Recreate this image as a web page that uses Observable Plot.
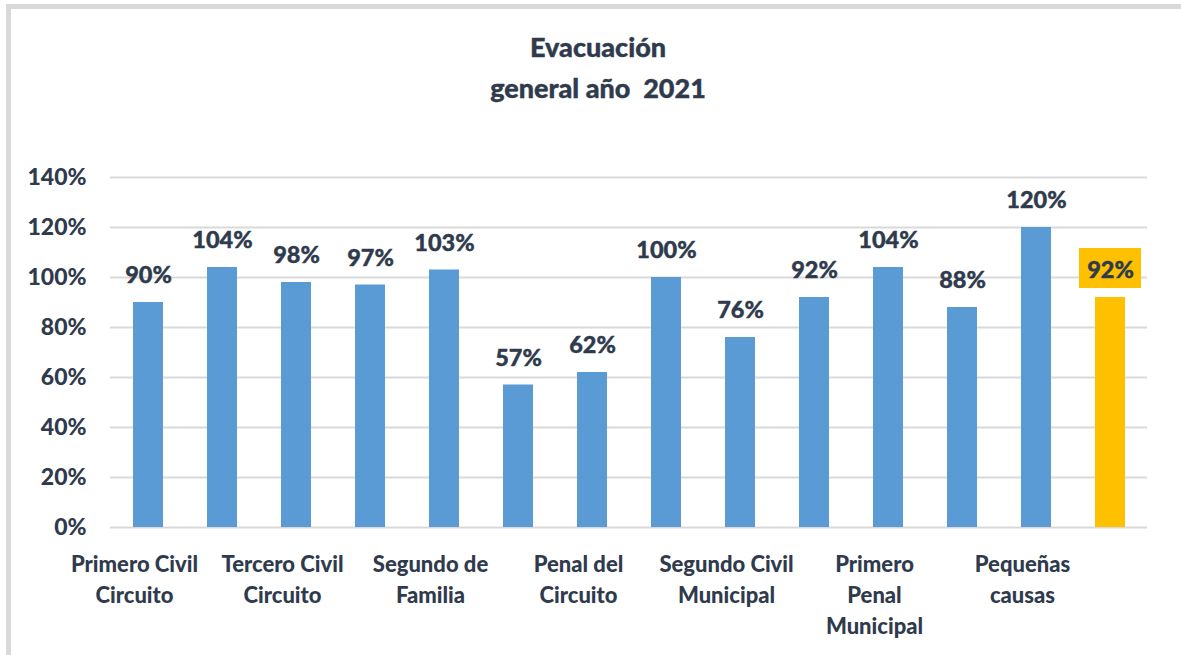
<!DOCTYPE html>
<html>
<head>
<meta charset="utf-8">
<script src="https://cdn.jsdelivr.net/npm/d3@7"></script>
<script src="https://cdn.jsdelivr.net/npm/@observablehq/plot@0.6"></script>
<style>
  html, body { margin: 0; padding: 0; background: #fff; }
  #frame { position: absolute; left: 6px; top: 4px; width: 1200px; height: 700px;
           border-top: 5px solid #d9d9d9; border-left: 5px solid #d9d9d9; box-sizing: border-box; }
  #chart { position: absolute; left: 0; top: 0; }
  #chart svg { font-family: Lato, "Open Sans", sans-serif; }
</style>
</head>
<body>
<div id="frame"></div>
<div id="chart"></div>
<script>
const categories = [
  "Primero Civil\nCircuito",
  "Segundo Civil\nCircuito",
  "Tercero Civil\nCircuito",
  "Primero de\nFamilia",
  "Segundo de\nFamilia",
  "Tercero de\nFamilia",
  "Penal del\nCircuito",
  "Primero Civil\nMunicipal",
  "Segundo Civil\nMunicipal",
  "Tercero Civil\nMunicipal",
  "Primero\nPenal\nMunicipal",
  "Segundo\nPenal\nMunicipal",
  "Pequeñas\ncausas",
  "Total\ngeneral"
];
const values = [90, 104, 98, 97, 103, 57, 62, 100, 76, 92, 104, 88, 120, 92];
const highlighted = ["Total\ngeneral"];
const yTicks = [0, 20, 40, 60, 80, 100, 120, 140];
const title = "Evacuación\ngeneral año  2021";

const data = categories.map((c, i) => ({cat: c, value: values[i], hi: highlighted.includes(c)}));
const shownTicks = categories.filter((d, i) => i % 2 === 0);

const ink = "#2f3b4d";
const heavy = {fontWeight: 900, fill: ink, stroke: ink, strokeWidth: 0.4};
const plot = Plot.plot({
  width: 1181,
  height: 655,
  marginLeft: 110,
  marginRight: 34,
  marginTop: 177,
  marginBottom: 128,
  style: {background: "transparent", overflow: "visible"},
  x: {domain: categories, paddingInner: 0.6, paddingOuter: 0.3},
  y: {domain: [0, 140]},
  marks: [
    Plot.gridY(yTicks, {stroke: "#d9d9d9", strokeOpacity: 1, strokeWidth: 2}),
    Plot.axisY(yTicks, {tickSize: 0, tickPadding: 24, tickFormat: d => d + "%",
      fontSize: 23, ...heavy, label: null}),
    Plot.axisX({ticks: shownTicks, tickSize: 0, tickPadding: 22, label: null,
      fontSize: 22, ...heavy, lineHeight: 1.42, dx: -14}),
    Plot.barY(data, {x: "cat", y: "value", fill: d => d.hi ? "#FFC000" : "#5B9BD5"}),
    Plot.barY(data.filter(d => d.hi), {x: "cat", y1: "value", y2: "value",
      insetLeft: -16, insetRight: -16, insetTop: -49, insetBottom: 9, fill: "#FFC000"}),
    Plot.text(data, {x: "cat", y: "value", text: d => d.value + "%",
      dy: -27, fontSize: 23.5, ...heavy}),
    Plot.text([title], {frameAnchor: "top", dx: -31, dy: -150, fontSize: 27,
      ...heavy, lineHeight: 1.52})
  ]
});
document.getElementById("chart").appendChild(plot);
</script>
</body>
</html>
